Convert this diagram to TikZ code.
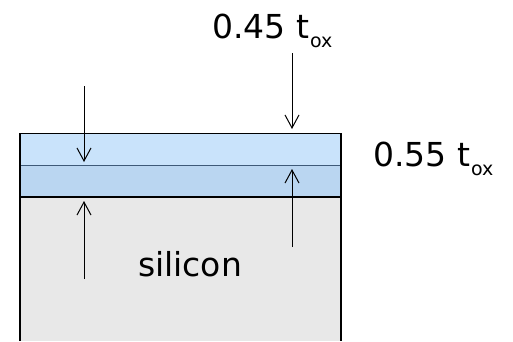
\documentclass[tikz,border=0pt]{standalone}
\usepackage{fontspec}
\setmainfont{DejaVu Sans}
\usetikzlibrary{arrows.meta}
\definecolor{oxtop}{HTML}{C9E3FB}
\definecolor{oxbot}{HTML}{BAD6F1}
\definecolor{sil}{HTML}{E8E8E8}
\definecolor{midline}{HTML}{3E5A78}
\newcommand{\tox}{t\kern1pt\raisebox{-9pt}{\fontsize{19}{20}\selectfont ox}}
\tikzset{
  dim/.style={line width=1pt,-{Straight Barb[length=13pt,width=14pt,line width=1pt]}},
  lbl/.style={font=\fontsize{33}{36}\selectfont, inner sep=0pt},
  border/.style={line width=1.6pt, black}
}
\begin{document}
\begin{tikzpicture}[x=1pt,y=-1pt]
\useasboundingbox (0,0) rectangle (513,341);
% layers
\fill[sil] (20,197) rectangle (341,341);
\fill[oxbot] (20,165.5) rectangle (341,197);
\fill[oxtop] (20,133.5) rectangle (341,165.5);
\draw[midline, line width=1.2pt] (20,165.5) -- (341,165.5);
\draw[border] (20,341) -- (20,133.5) -- (341,133.5) -- (341,341);
\draw[border] (20,197) -- (341,197);
% coordinates
\coordinate (a1s) at (84,86);   \coordinate (a1e) at (84,162);
\coordinate (a2s) at (84,279);  \coordinate (a2e) at (84,201);
\coordinate (a3s) at (292,53);  \coordinate (a3e) at (292,129);
\coordinate (a4s) at (292,247); \coordinate (a4e) at (292,169);
\draw[dim] (a1s) -- (a1e);
\draw[dim] (a2s) -- (a2e);
\draw[dim] (a3s) -- (a3e);
\draw[dim] (a4s) -- (a4e);
% labels
\node[lbl, anchor=base west] (t1) at (212,38) {0.45 \tox};
\node[lbl, anchor=base west] (t2) at (373,166) {0.55 \tox};
\node[lbl, anchor=base] (si) at (190,276) {silicon};
\end{tikzpicture}
\end{document}
